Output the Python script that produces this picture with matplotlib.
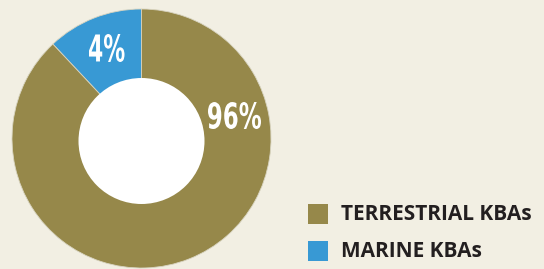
import matplotlib.pyplot as plt
from matplotlib.patches import Circle, Rectangle, PathPatch
from matplotlib.textpath import TextPath
from matplotlib.font_manager import FontProperties
from matplotlib.transforms import Affine2D

# wedge shares as drawn in the picture (the artwork is not to scale)
categories = ['MARINE KBAs', 'TERRESTRIAL KBAs']
shares = [12, 88]
labels = ['4%', '96%']
colours = ['#3899d4', '#96884a']

bg = '#f2efe3'
H = 269


def condensed_text(ax, s, box):
    # fit bold text into a pixel box (x0, top, x1, bottom) to mimic a condensed face
    tp = TextPath((0, 0), s, size=40, prop=FontProperties(family='DejaVu Sans', weight='bold'))
    ext = tp.get_extents()
    x0, top, x1, bottom = box
    sx = (x1 - x0) / ext.width
    sy = (bottom - top) / ext.height
    tr = Affine2D().translate(-ext.x0, -ext.y0).scale(sx, sy).translate(x0, H - bottom)
    ax.add_patch(PathPatch(tr.transform_path(tp), facecolor='white', edgecolor='none', zorder=4))


fig = plt.figure(figsize=(5.44, 2.69), dpi=100, facecolor=bg)
ax = fig.add_axes([0, 0, 1, 1])

cx, cy = 141.5, H - 138.5
ax.pie(shares, colors=colours, startangle=90, counterclock=True,
       center=(cx, cy), radius=129.5,
       wedgeprops=dict(linewidth=0.6, edgecolor='#d8d4c0'))
ax.add_patch(Circle((cx, H - 141), 63, facecolor='white', edgecolor='none', zorder=3))

ax.set_xlim(0, 544)
ax.set_ylim(0, 269)
ax.set_aspect('equal')
ax.axis('off')

condensed_text(ax, labels[0], (89, 34, 124.5, 62))
condensed_text(ax, labels[1], (208, 102, 261, 129))

# legend
leg_font = dict(family='Open Sans', weight='bold', size=15, color='#231f20',
                ha='left', va='center')
ax.add_patch(Rectangle((308, H - 224), 20, 20, facecolor=colours[1], edgecolor='none'))
ax.text(341, H - 214.5, categories[1], **leg_font)
ax.add_patch(Rectangle((308, H - 261), 20, 20, facecolor=colours[0], edgecolor='none'))
ax.text(341, H - 251.5, categories[0], **leg_font)

fig.savefig('out.png', dpi=100, facecolor=bg)
